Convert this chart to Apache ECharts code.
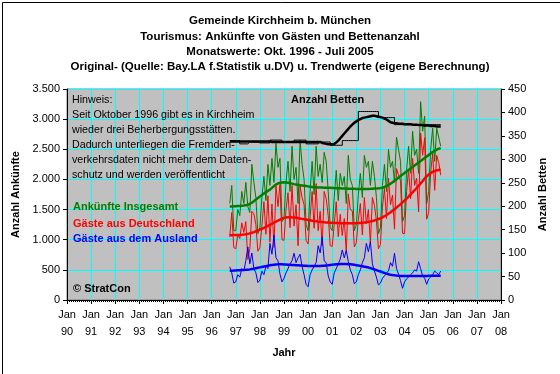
<!DOCTYPE html>
<html><head><meta charset="utf-8">
<script src="https://cdn.jsdelivr.net/npm/echarts@6/dist/echarts.min.js"></script>
<style>html,body{margin:0;padding:0;background:#fff}#c{width:560px;height:374px}</style>
</head><body><div id="c"></div>
<script>
// Monthly data from Oct 1996 (index 0) to Jul 2005 (index 105)
const startYear = 1996, startMonth = 10;
const titleLines = [
  "Gemeinde Kirchheim b. München",
  "Tourismus: Ankünfte von Gästen und Bettenanzahl",
  "Monatswerte: Okt. 1996 - Juli 2005",
  "Original- (Quelle: Bay.LA f.Statistik u.DV) u. Trendwerte (eigene Berechnung)"
];
const xTickLabels = ["Jan\n90","Jan\n91","Jan\n92","Jan\n93","Jan\n94","Jan\n95","Jan\n96","Jan\n97","Jan\n98","Jan\n99","Jan\n00","Jan\n01","Jan\n02","Jan\n03","Jan\n04","Jan\n05","Jan\n06","Jan\n07","Jan\n08"];
const xFirstYear = 1990, xLastYear = 2008;

// Ankünfte Insgesamt (monthly)
const totalM = [1600,1900,1150,
 1150,1500,1400,1800,1600,1950,1550,1450,2250,1950,1700,1100,
 1200,1700,2050,1650,2250,1900,2350,1950,2600,2200,2350,1300,
 1350,1950,2300,1800,2550,2000,2200,1600,2650,2250,2000,1250,
 1150,1800,2300,1750,2550,2050,2250,1950,2450,2300,1800,1200,
 1150,1700,2150,1650,2100,1900,2050,1600,2400,2000,1900,1150,
 1250,1750,2100,1700,2400,2200,2300,1900,2300,2050,1700,1100,
 1200,1900,2250,1800,2500,2200,2300,1950,2700,2500,2300,1300,
 1400,2150,2550,2100,2800,2400,2500,2100,3290,2800,3050,1600,
 1800,2500,2850,2300,2850,2700,2550];
// Gäste aus Deutschland (monthly)
const germanM = [1050,1450,870,
 850,1080,1020,1280,1120,1300,670,850,1470,1430,1250,810,
 870,1220,1630,1090,1730,960,1590,872,1900,1550,1920,1000,
 990,1500,1780,1200,1900,1225,1580,900,1890,1700,1580,990,
 930,1380,1800,1190,1930,1150,1470,900,1800,1680,1400,900,
 890,1250,1630,1050,1420,1070,1350,780,1760,1500,1480,880,
 950,1330,1600,1080,1700,1260,1500,933,1700,1570,1320,850,
 920,1540,1850,1350,2020,1580,1740,1175,2180,2070,1980,1106,
 1100,1800,2170,1680,2350,1900,2020,1465,2770,2400,2690,1340,
 1450,2120,2430,1820,2400,2280,2070];
// Gäste aus dem Ausland (monthly)
const foreignM = [550,450,280,
 300,420,380,520,480,650,880,600,780,520,450,290,
 330,480,420,560,520,940,760,1078,700,650,430,300,
 360,450,520,600,650,775,620,700,760,550,420,260,
 220,420,500,560,620,900,780,1050,650,620,400,300,
 260,450,520,600,680,830,700,820,640,500,420,270,
 300,420,500,620,700,940,800,967,600,480,380,250,
 280,360,400,450,480,620,560,775,520,430,320,194,
 300,350,380,420,450,500,480,635,520,400,360,260,
 350,380,420,480,450,420,480];
// Trend values
const totalT = [1550,1552,1554,1556,1558,1560,1563,1566,1570,
 1580,1595,1615,1640,1665,1690,1715,1740,1765,1790,1810,1830,1860,1890,1915,1935,1945,
 1950,1952,1950,1945,1938,1930,1922,1915,1910,1905,
 1900,1895,1890,1885,1880,1876,1872,1870,1868,1866,1865,1864,1863,1862,1860,
 1858,1856,1855,1853,1852,1850,1849,1848,1847,1846,1845,1844,1843,1843,1842,1842,1842,1842,1843,1844,1846,1848,1850,1853,1857,1862,
 1875,1890,1910,1930,1955,1980,2005,2030,2055,2080,2105,2130,2155,2180,2205,2230,2255,2280,2305,2330,2355,2380,2405,2430,2455,2475,2495,2510,2520];
const germanT = [1075,1076,1077,1078,1079,1080,1082,1085,1090,
 1097,1105,1115,1127,1140,1153,1167,1182,1197,1213,1230,1247,1265,1283,1300,1318,1335,1350,1362,1370,
 1372,1372,1370,1367,1363,1358,1352,1346,1340,1334,1328,1322,1316,1310,1305,1300,1296,1292,1289,1287,1285,1283,
 1281,1279,1277,1276,1275,1274,1273,1272,1272,1272,1272,1273,1274,1276,1278,1281,1285,1290,1296,1303,1311,1320,
 1330,1342,1356,1372,1390,1410,1432,1455,1480,1506,1533,1561,1590,1620,1651,1683,1716,1750,1785,1821,1858,1896,1935,1975,2016,2050,2080,2105,2125,2140,2150,2157,2160];
const foreignT = [486,487,488,490,492,494,496,498,500,503,
 508,514,520,527,534,541,548,555,562,569,575,580,584,588,591,592,592,
 590,588,586,584,582,580,578,576,574,572,570,568,566,565,564,564,564,565,566,568,570,573,576,580,584,588,592,595,597,598,598,597,595,592,
 588,583,578,572,566,560,553,546,538,529,519,508,496,484,472,460,449,438,428,420,
 414,409,405,402,400,399,398,398,398,398,398,398,398,398,399,399,400,400,401,401,402,402,403,403,404];
// Anzahl Betten (monthly, right axis)
const bedsM = [340,340,340,340,340,340,
 333,333,333,333, 337,337,337,337,337,
 335,335,335,335,335,335, 341,341,341,341,341,341,
 336,336,336,336,336,336, 341,341,341,341,341,341,
 333,333,333,333,333,333, 337,337,337,337,337,337,
 330,330,330,330,330,330, 340,340,340,340,340,340,
 340,340, 402,402,402,402,402,402,402,402,402,402,
 389,389,389,389,389,389,389,389,
 374,374,374,374,374,374,374,374,374,374,374,374,374,374,374,374,374,374,374,374,374,374,374];
const bedsT = [338,338,338,338,338,338,338,338,338,338,338,338,338,338,338,338,338,338,338,338,338,
 337,337,337,337,337,337,337,337,337,337,337,337,337,337,337,337,337,337,337,337,337,337,337,337,337,
 335,334,333,332,332,332,333,
 336,340,345,350,355,360,365,370,
 374,378,381,384,386,388,389,390,391,392,393,
 393,392,391,390,389,387,385,382,379,
 378,377,377,376,376,376,375,375,375,375,374,374,374,373,373,373,372,372,372,371,371,371,370,370,370];

function monthX(i){ return startYear + (startMonth - 1 + i) / 12; }
function pairs(arr){ return arr.map((v,i)=>[monthX(i), v]); }
function fmtDE(v){ if (v >= 1000){ const t = Math.floor(v/1000), r = String(v%1000).padStart(3,'0'); return t + '.' + r; } return String(v); }

const FONT = 'Arial, "Liberation Sans", sans-serif';
const chart = echarts.init(document.getElementById('c'), null, {renderer:'canvas'});

const graphics = [
  {type:'rect', left:0, top:0, shape:{x:0.5,y:0.5,width:559,height:373}, style:{fill:'none', stroke:'#000', lineWidth:1}, z:100}
];
titleLines.forEach((t, k) => {
  graphics.push({type:'text', x:280, y:21 + k*15.4, style:{text:t, font:'bold 11.5px '+FONT, fill:'#000', textAlign:'center', textVerticalAlign:'middle'}, z:50});
});
graphics.push({type:'text', x:72, y:93, style:{text:"Hinweis:\nSeit Oktober 1996 gibt es in Kirchheim\nwieder drei Beherbergungsstätten.\nDadurch unterliegen die Fremden-\nverkehrsdaten nicht mehr dem Daten-\nschutz und werden veröffentlicht", font:'10.7px '+FONT, lineHeight:15, fill:'#000', textVerticalAlign:'top'}, z:50});
graphics.push({type:'text', x:73, y:207, style:{text:'Ankünfte Insgesamt', font:'bold 11px '+FONT, fill:'#008000', textVerticalAlign:'middle'}, z:50});
graphics.push({type:'text', x:73, y:224, style:{text:'Gäste aus Deutschland', font:'bold 11px '+FONT, fill:'#ff0000', textVerticalAlign:'middle'}, z:50});
graphics.push({type:'text', x:73, y:239, style:{text:'Gäste aus dem Ausland', font:'bold 11px '+FONT, fill:'#0000ff', textVerticalAlign:'middle'}, z:50});
graphics.push({type:'text', x:73, y:289, style:{text:'© StratCon', font:'bold 11px '+FONT, fill:'#000', textVerticalAlign:'middle'}, z:50});
graphics.push({type:'text', x:291, y:100, style:{text:'Anzahl Betten', font:'bold 11px '+FONT, fill:'#000', textVerticalAlign:'middle'}, z:50});

function line(name, data, color, width, yIdx, z){
  return {name, type:'line', data:pairs(data), yAxisIndex:yIdx, showSymbol:false, symbol:'none',
    lineStyle:{color, width}, itemStyle:{color}, z, animation:false, silent:true};
}

chart.setOption({
  animation:false,
  backgroundColor:'#ffffff',
  textStyle:{fontFamily:FONT},
  grid:{left:67, right:59, top:89, bottom:74, show:true, backgroundColor:'#c0c0c0', borderColor:'#808080', borderWidth:1},
  xAxis:{type:'value', min:xFirstYear, max:xLastYear, interval:1,
    name:'Jahr', nameLocation:'middle', nameGap:47, nameTextStyle:{fontWeight:'bold', fontSize:11, color:'#000', fontFamily:FONT},
    axisLine:{show:true, onZero:false, lineStyle:{color:'#000'}},
    axisTick:{show:true, length:4, lineStyle:{color:'#000'}},
    minorTick:{show:true, splitNumber:12, length:2, lineStyle:{color:'#000'}},
    axisLabel:{margin:6, fontSize:11, lineHeight:17, color:'#000', fontFamily:FONT,
      formatter:(v)=>{ const k = Math.round(v - xFirstYear); return xTickLabels[k] || ''; }},
    splitLine:{show:true, lineStyle:{color:'#00ffff', width:1}}
  },
  yAxis:[
    {type:'value', min:0, max:3500, interval:500, position:'left',
     name:'Anzahl Ankünfte', nameLocation:'middle', nameGap:36, nameRotate:90,
     nameTextStyle:{fontWeight:'bold', fontSize:11, color:'#000', fontFamily:FONT},
     axisLine:{show:true, lineStyle:{color:'#000'}},
     axisTick:{show:true, length:4, lineStyle:{color:'#000'}},
     axisLabel:{margin:7, fontSize:11, color:'#000', fontFamily:FONT, formatter:fmtDE},
     splitLine:{show:true, lineStyle:{color:'#00ffff', width:1}}},
    {type:'value', min:0, max:450, interval:50, position:'right',
     name:'Anzahl Betten', nameLocation:'middle', nameGap:33, nameRotate:90,
     nameTextStyle:{fontWeight:'bold', fontSize:11, color:'#000', fontFamily:FONT},
     axisLine:{show:true, lineStyle:{color:'#000'}},
     axisTick:{show:true, length:4, lineStyle:{color:'#000'}},
     axisLabel:{margin:7, fontSize:11, color:'#000', fontFamily:FONT},
     splitLine:{show:false}}
  ],
  graphic: graphics,
  series:[
    line('Ankünfte Insgesamt', totalM, '#008000', 1, 0, 2),
    line('Gäste aus Deutschland', germanM, '#ff0000', 1, 0, 3),
    line('Gäste aus dem Ausland', foreignM, '#0000ff', 1, 0, 4),
    line('Trend Insgesamt', totalT, '#008000', 2.5, 0, 5),
    line('Trend Deutschland', germanT, '#ff0000', 2.5, 0, 6),
    line('Trend Ausland', foreignT, '#0000ff', 2.5, 0, 7),
    Object.assign(line('Betten', bedsM, '#000000', 1, 1, 8), {step:'start'}),
    line('Trend Betten', bedsT, '#000000', 2.5, 1, 9)
  ]
});
</script>
</body></html>
